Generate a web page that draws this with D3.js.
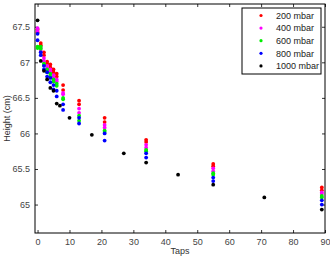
<!DOCTYPE html>
<html>
<head>
    <script src="https://d3js.org/d3.v7.min.js"></script>
    <style>
        body { margin: 0; background: #fff; }
        text { font-family: "Liberation Sans", Arial, sans-serif; }
    </style>
</head>
<body>
<svg width="330" height="256" id="mainSvg"></svg>
<script>
    // taps shared by the 200-800 mbar runs
    const taps = [0, 1, 2, 3, 4, 5, 6, 8, 13, 21, 34, 55, 89];
    // two runs per pressure
    const h200a = [67.46, 67.27, 67.14, 67.01, 66.97, 66.90, 66.84, 66.68, 66.46, 66.22, 65.91, 65.57, 65.24];
    const h200b = [67.42, 67.24, 67.10, 66.98, 66.93, 66.86, 66.80, 66.61, 66.41, 66.16, 65.88, 65.54, 65.20];
    const h400a = [67.44, 67.20, 67.06, 66.95, 66.90, 66.82, 66.76, 66.55, 66.35, 66.12, 65.84, 65.51, 65.17];
    const h400b = [67.48, 67.16, 67.02, 66.92, 66.87, 66.79, 66.73, 66.57, 66.29, 66.08, 65.80, 65.47, 65.15];
    const h600a = [67.22, 67.22, 66.98, 66.90, 66.84, 66.76, 66.70, 66.48, 66.25, 66.04, 65.77, 65.44, 65.12];
    const h600b = [67.20, 67.19, 66.96, 66.86, 66.80, 66.73, 66.67, 66.50, 66.18, 66.02, 65.75, 65.42, 65.10];
    const h800a = [67.40, 67.14, 66.95, 66.86, 66.78, 66.68, 66.60, 66.41, 66.22, 66.00, 65.72, 65.38, 65.06];
    const h800b = [67.31, 67.10, 66.90, 66.80, 66.72, 66.62, 66.52, 66.33, 66.14, 65.90, 65.66, 65.33, 65.00];
    // 1000 mbar was sampled at other tap counts
    const taps1000 = [0, 1, 2, 3, 4, 5, 6, 7, 10, 17, 27, 34, 44, 55, 71, 89];
    const h1000 = [67.59, 67.02, 66.88, 66.76, 66.64, 66.60, 66.42, 66.39, 66.22, 65.98, 65.72, 65.59, 65.42, 65.28, 65.10, 64.93];

    const legendLabels = ["200 mbar", "400 mbar", "600 mbar", "800 mbar", "1000 mbar"];
    const colors = ["#ff0000", "#ff00ff", "#00ee00", "#0000ff", "#000000"];
    const xTicks = [0, 10, 20, 30, 40, 50, 60, 70, 80, 90];
    const yTicks = [65, 65.5, 66, 66.5, 67, 67.5];

    const series = [
        { name: legendLabels[0], runs: [[taps, h200a], [taps, h200b]] },
        { name: legendLabels[1], runs: [[taps, h400a], [taps, h400b]] },
        { name: legendLabels[2], runs: [[taps, h600a], [taps, h600b]] },
        { name: legendLabels[3], runs: [[taps, h800a], [taps, h800b]] },
        { name: legendLabels[4], runs: [[taps1000, h1000]] }
    ];

    const svg = d3.select('#mainSvg');
    const margin = { left: 35, right: 5, top: 4, bottom: 23 };
    const width = 330, height = 256;

    const x = d3.scaleLinear().domain([-0.8, 90]).range([margin.left, width - margin.right]);
    const y = d3.scaleLinear().domain([64.6, 67.82]).range([height - margin.bottom, margin.top]);

    const color = d3.scaleOrdinal().domain(legendLabels).range(colors);

    // axes, MATLAB style ticks inside the box
    const tickLen = 3;
    const fmt = d => String(d);
    svg.append("g")
        .attr("transform", `translate(0,${y.range()[0]})`)
        .call(d3.axisBottom(x).tickValues(xTicks).tickSize(-tickLen).tickPadding(6).tickFormat(fmt))
        .call(g => g.select(".domain").remove());
    svg.append("g")
        .attr("transform", `translate(0,${y.range()[1]})`)
        .call(d3.axisTop(x).tickValues(xTicks).tickSize(-tickLen).tickFormat(""))
        .call(g => g.select(".domain").remove());
    svg.append("g")
        .attr("transform", `translate(${x.range()[0]},0)`)
        .call(d3.axisLeft(y).tickValues(yTicks).tickSize(-tickLen).tickPadding(5).tickFormat(fmt))
        .call(g => g.select(".domain").remove());
    svg.append("g")
        .attr("transform", `translate(${x.range()[1]},0)`)
        .call(d3.axisRight(y).tickValues(yTicks).tickSize(-tickLen).tickFormat(""))
        .call(g => g.select(".domain").remove());

    svg.selectAll(".tick text")
        .attr("font-size", 9)
        .attr("fill", "#444")
        .style("font-family", "Liberation Sans, Arial, sans-serif");
    svg.selectAll(".tick line").attr("stroke", "#333");

    svg.append("rect")
        .attr("x", x.range()[0]).attr("y", y.range()[1])
        .attr("width", x.range()[1] - x.range()[0])
        .attr("height", y.range()[0] - y.range()[1])
        .attr("fill", "none").attr("stroke", "#000");

    // points
    series.forEach(s => {
        const pts = [];
        s.runs.forEach(r => r[0].forEach((t, i) => pts.push([t, r[1][i]])));
        svg.append("g").selectAll("circle").data(pts).join("circle")
            .attr("cx", d => x(d[0]))
            .attr("cy", d => y(d[1]))
            .attr("r", 1.9)
            .attr("fill", color(s.name));
    });

    // labels
    svg.append("text")
        .attr("x", (x.range()[0] + x.range()[1]) / 2)
        .attr("y", 254)
        .attr("text-anchor", "middle")
        .attr("font-size", 9)
        .attr("fill", "#333")
        .text("Taps");
    svg.append("text")
        .attr("transform", `translate(10,${(y.range()[0] + y.range()[1]) / 2}) rotate(-90)`)
        .attr("text-anchor", "middle")
        .attr("font-size", 9)
        .attr("fill", "#333")
        .text("Height (cm)");

    // legend
    const lg = svg.append("g");
    lg.append("rect")
        .attr("x", 242).attr("y", 8).attr("width", 79).attr("height", 66)
        .attr("fill", "#fff").attr("stroke", "#000");
    legendLabels.forEach((name, i) => {
        lg.append("circle")
            .attr("cx", 261).attr("cy", 15.5 + i * 12.6).attr("r", 1.6)
            .attr("fill", color(name));
        lg.append("text")
            .attr("x", 276).attr("y", 15.5 + i * 12.6 + 3.2)
            .attr("font-size", 9)
            .attr("fill", "#222")
            .text(name);
    });
</script>
</body>
</html>
